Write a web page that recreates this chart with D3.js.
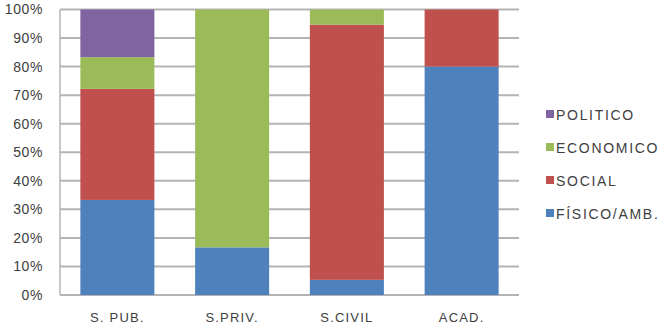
<!DOCTYPE html>
<html>
<head>
<meta charset="utf-8">
<script src="https://cdn.jsdelivr.net/npm/d3@7"></script>
<style>
  html, body { margin: 0; padding: 0; background: #fff; }
  svg { display: block; }
  text { font-family: "Liberation Sans", "DejaVu Sans", sans-serif; fill: #404040; }
</style>
</head>
<body>
<svg id="chart" width="661" height="328"></svg>
<script>
// Share of each dimension per sector (percent)
const categories = ["S. PUB.", "S.PRIV.", "S.CIVIL", "ACAD."];
const seriesNames = ["FÍSICO/AMB.", "SOCIAL", "ECONOMICO", "POLITICO"];
const fisico    = [33.3, 16.7, 5.3, 80];
const social    = [38.9, 0, 89.4, 20];
const economico = [11.1, 83.3, 5.3, 0];
const politico  = [16.7, 0, 0, 0];
const yTicks = [0, 10, 20, 30, 40, 50, 60, 70, 80, 90, 100];
const colors = ["#4f81bd", "#c0504d", "#9bbb59", "#8064a2"];

const rows = categories.map((c, i) => ({
  cat: c,
  "FÍSICO/AMB.": fisico[i],
  "SOCIAL": social[i],
  "ECONOMICO": economico[i],
  "POLITICO": politico[i]
}));

const svg = d3.select("#chart");
const plot = { left: 60, right: 519, top: 9.5, bottom: 295 };

const x = d3.scaleBand().domain(categories).range([plot.left, plot.right])
  .paddingInner(0.355).paddingOuter(0.1775);
const y = d3.scaleLinear().domain([0, 100]).range([plot.bottom, plot.top]);
const color = d3.scaleOrdinal().domain(seriesNames).range(colors);

// Horizontal gridlines
svg.append("g")
  .selectAll("line")
  .data(yTicks)
  .join("line")
  .attr("x1", plot.left).attr("x2", plot.right)
  .attr("y1", d => y(d)).attr("y2", d => y(d))
  .attr("stroke", "#b4b4b4").attr("stroke-width", 2);

// Left axis line
svg.append("line")
  .attr("x1", plot.left).attr("x2", plot.left)
  .attr("y1", plot.top).attr("y2", plot.bottom)
  .attr("stroke", "#b4b4b4").attr("stroke-width", 1.5);

// Stacked bars
const stacked = d3.stack().keys(seriesNames)(rows);
svg.append("g")
  .selectAll("g")
  .data(stacked)
  .join("g")
  .attr("fill", d => color(d.key))
  .selectAll("rect")
  .data(d => d)
  .join("rect")
  .attr("x", d => x(d.data.cat))
  .attr("width", x.bandwidth())
  .attr("y", d => y(d[1]))
  .attr("height", d => y(d[0]) - y(d[1]));

// Y axis labels
const yAxis = d3.axisLeft(y).tickValues(yTicks).tickFormat(d => d + "%").tickSize(0).tickPadding(17);
const gy = svg.append("g").attr("transform", `translate(${plot.left},0)`).call(yAxis);
gy.select(".domain").remove();
gy.selectAll("text").attr("font-size", 14).attr("letter-spacing", 0.6)
  .style("font-family", "Liberation Sans, sans-serif").attr("fill", "#404040");

// X axis labels
const xAxis = d3.axisBottom(x).tickSize(0).tickPadding(18);
const gx = svg.append("g").attr("transform", `translate(0,${plot.bottom})`).call(xAxis);
gx.select(".domain").remove();
gx.selectAll("text").attr("font-size", 13).attr("letter-spacing", 1.2)
  .style("font-family", "Liberation Sans, sans-serif").attr("fill", "#404040");

// Legend (top entry = top of stack)
const legendItems = seriesNames.slice().reverse();
const legend = svg.append("g").attr("transform", "translate(546,0)");
const lg = legend.selectAll("g")
  .data(legendItems)
  .join("g")
  .attr("transform", (d, i) => `translate(0,${115 + i * 33})`);
lg.append("rect")
  .attr("x", 0).attr("y", -5).attr("width", 8).attr("height", 8)
  .attr("fill", d => color(d));
lg.append("text")
  .attr("x", 10).attr("y", 0).attr("dy", "0.35em")
  .attr("font-size", 14)
  .attr("letter-spacing", 1.7)
  .text(d => d);
</script>
</body>
</html>
